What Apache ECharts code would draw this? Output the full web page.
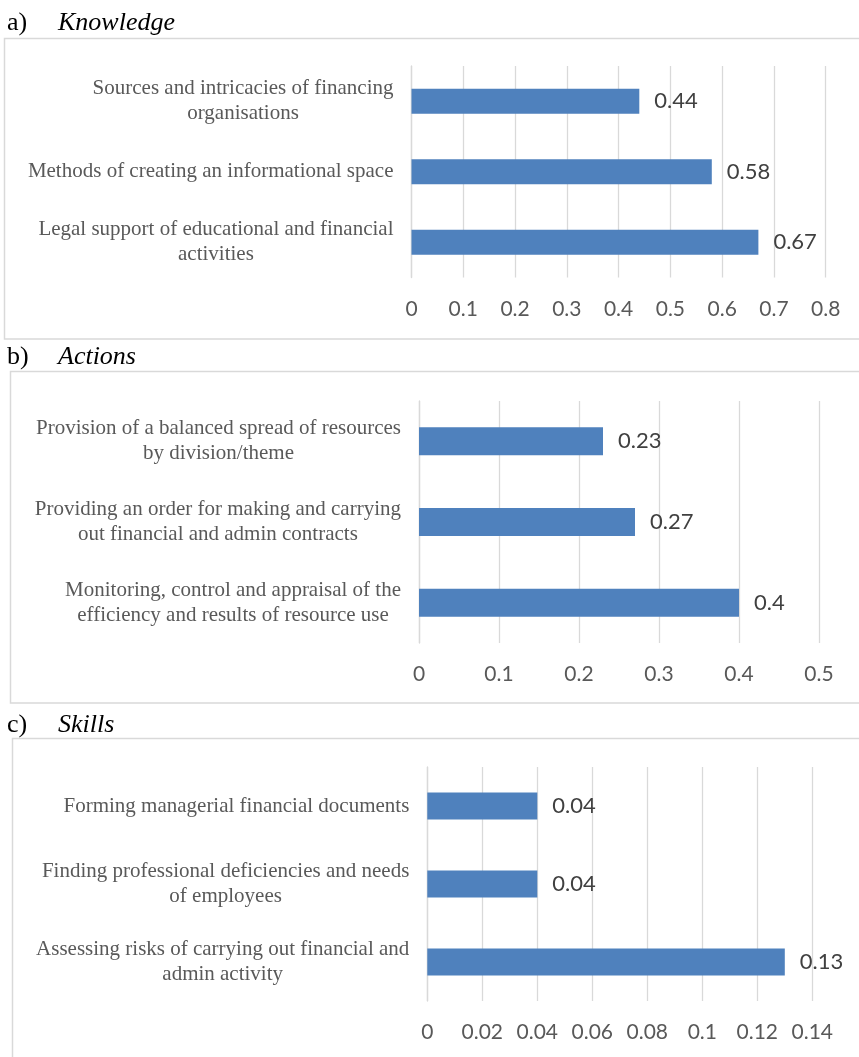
<!DOCTYPE html>
<html>
<head>
<meta charset="utf-8">
<script src="https://cdn.jsdelivr.net/npm/echarts@6/dist/echarts.min.js"></script>
<style>
html,body{margin:0;padding:0;background:#fff;}
#c{width:859px;height:1057px;}
</style>
</head>
<body>
<div id="c"></div>
<script>
// ---- data ----
const knowledgeCats = [
  "Sources and intricacies of financing\norganisations",
  "Methods of creating an informational space",
  "Legal support of educational and financial\nactivities"
];
const knowledgeVals = [0.44, 0.58, 0.67];

const actionsCats = [
  "Provision of a balanced spread of resources\nby division/theme",
  "Providing an order for making and carrying\nout financial and admin contracts",
  "Monitoring, control and appraisal of the\nefficiency and results of resource use"
];
const actionsVals = [0.23, 0.27, 0.4];

const skillsCats = [
  "Forming managerial financial documents",
  "Finding professional deficiencies and needs\nof employees",
  "Assessing risks of carrying out financial and\nadmin activity"
];
const skillsVals = [0.04, 0.04, 0.13];

const panelTitles = [["a)", "Knowledge"], ["b)", "Actions"], ["c)", "Skills"]];

// ---- styling ----
const serif = "'Liberation Serif','DejaVu Serif',serif";
const sans = "Lato,'Open Sans',sans-serif";
const barColor = "#4F81BD";
const gridColor = "#D9D9D9";

const grids = [
  {left: 411.5, width: 414.2, top: 66, height: 211.5},
  {left: 419, width: 400, top: 401, height: 242},
  {left: 427.3, width: 385, top: 767, height: 234}
];
const axisMax = [0.8, 0.5, 0.14];
const axisInterval = [0.1, 0.1, 0.02];
const cats = [knowledgeCats, actionsCats, skillsCats];
const vals = [knowledgeVals, actionsVals, skillsVals];
const barW = [25, 28, 27];

function catFormatter(v) {
  return v.split('\n').map(l => '{c|' + l + '}').join('\n');
}

const xAxes = [], yAxes = [], series = [];
for (let i = 0; i < 3; i++) {
  xAxes.push({
    type: 'value', gridIndex: i, min: 0, max: axisMax[i], interval: axisInterval[i],
    axisLine: {show: false}, axisTick: {show: false},
    splitLine: {show: true, lineStyle: {color: gridColor, width: 1.3}},
    axisLabel: {color: '#595959', fontFamily: sans, fontSize: 21, margin: 21,
      formatter: v => String(Math.round(v * 1000) / 1000)}
  });
  yAxes.push({
    type: 'category', gridIndex: i, data: cats[i], inverse: true,
    axisLine: {show: true, lineStyle: {color: gridColor, width: 1.3}},
    axisTick: {show: false},
    axisLabel: {
      margin: 18, align: 'right', formatter: catFormatter,
      rich: {c: {align: 'center', fontFamily: serif, fontSize: 21, color: '#595959', lineHeight: 25}}
    }
  });
  series.push({
    type: 'bar', xAxisIndex: i, yAxisIndex: i, data: vals[i], barWidth: barW[i],
    itemStyle: {color: barColor},
    label: {show: true, position: 'right', distance: 15, color: '#404040',
      fontFamily: sans, fontSize: 22},
    silent: true
  });
}

const boxes = [
  {x: 4.5, y: 38.5, w: 880, h: 300.5},
  {x: 10.5, y: 371.5, w: 880, h: 331.5},
  {x: 12.5, y: 738.5, w: 880, h: 400}
];
const titleY = [23, 357, 725];
const graphic = [];
boxes.forEach(b => graphic.push({
  type: 'rect', shape: {x: b.x, y: b.y, width: b.w, height: b.h},
  style: {fill: 'none', stroke: gridColor, lineWidth: 1.5}, silent: true
}));
panelTitles.forEach((t, i) => {
  graphic.push({type: 'text', x: 7, y: titleY[i],
    style: {text: t[0], fontFamily: serif, fontSize: 26, fill: '#000', verticalAlign: 'middle'}});
  graphic.push({type: 'text', x: 58, y: titleY[i],
    style: {text: t[1], fontFamily: serif, fontStyle: 'italic', fontSize: 26, fill: '#000', verticalAlign: 'middle'}});
});

const chart = echarts.init(document.getElementById('c'), null, {renderer: 'canvas'});
chart.setOption({
  animation: false,
  backgroundColor: '#fff',
  grid: grids,
  xAxis: xAxes,
  yAxis: yAxes,
  series: series,
  graphic: graphic
});
</script>
</body>
</html>
